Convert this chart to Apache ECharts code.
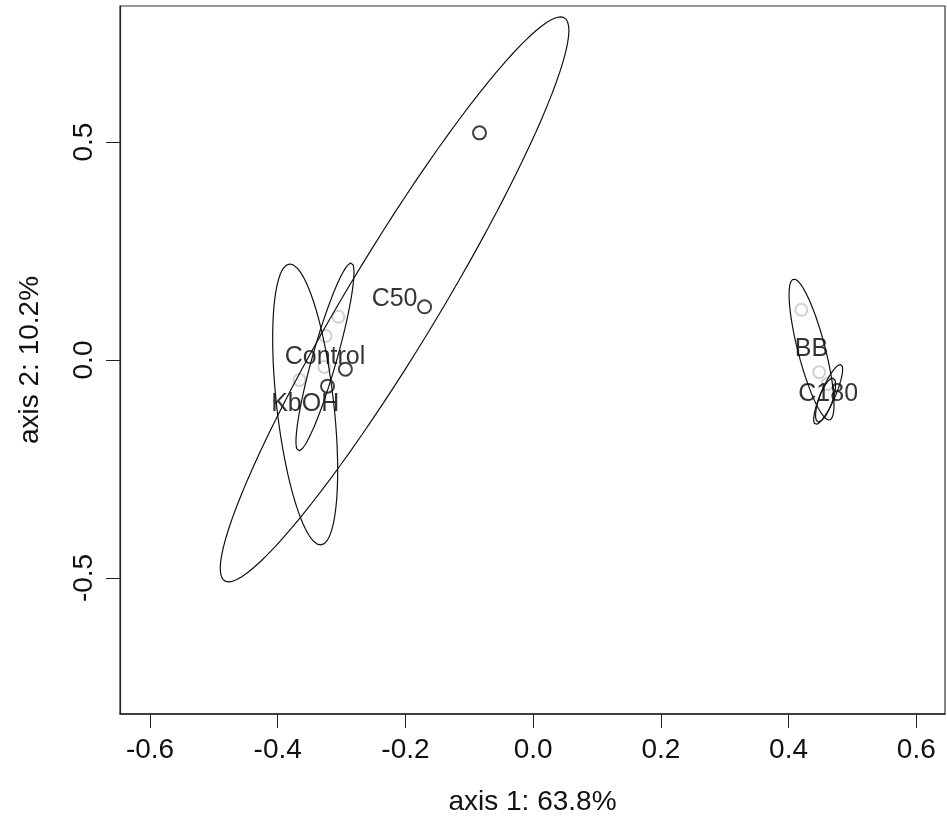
<!DOCTYPE html>
<html>
<head>
<meta charset="utf-8">
<script src="https://cdn.jsdelivr.net/npm/echarts@6/dist/echarts.min.js"></script>
<style>
  html, body { margin: 0; padding: 0; background: #fff; }
  #container { width: 947px; height: 817px; }
</style>
</head>
<body>
<div id="container"></div>
<script>
// group labels, centroids and ellipse shape (sd along x, sd along y, correlation)
var groupNames = ['C50', 'Control', 'KbOH', 'BB', 'C180', ''];
var groupX = [-0.217, -0.326, -0.357, 0.436, 0.462, 0.458];
var groupY = [0.139, 0.007, -0.102, 0.024, -0.079, -0.092];
var ellSdX = [0.273, 0.0454, 0.0509, 0.0352, 0.0227, 0.0157];
var ellSdY = [0.648, 0.2156, 0.3222, 0.1617, 0.0688, 0.0505];
var ellRho = [0.952, 0.90, -0.47, -0.78, 0.84, 0.70];

// sample sites (dark) and faint ones
var siteX = [-0.084, -0.170, -0.294, -0.322];
var siteY = [0.521, 0.122, -0.021, -0.060];
var faintX = [-0.305, -0.325, -0.327, -0.366, 0.420, 0.448, 0.461];
var faintY = [0.099, 0.055, -0.016, -0.046, 0.115, -0.028, -0.055];

var xTicks = [-0.6, -0.4, -0.2, 0.0, 0.2, 0.4, 0.6];
var yTicks = [-0.5, 0.0, 0.5];

var dom = document.getElementById('container');
var myChart = echarts.init(dom);
var font = 'Liberation Sans, Arial, sans-serif';

function ellipse(i) {
  var pts = [];
  var s = Math.sqrt(1 - ellRho[i] * ellRho[i]);
  for (var k = 0; k <= 100; k++) {
    var t = 2 * Math.PI * k / 100;
    pts.push([
      groupX[i] + ellSdX[i] * Math.cos(t),
      groupY[i] + ellSdY[i] * (ellRho[i] * Math.cos(t) + s * Math.sin(t))
    ]);
  }
  return pts;
}

var series = groupNames.map(function (name, i) {
  return {
    type: 'line',
    data: ellipse(i),
    showSymbol: false,
    silent: true,
    lineStyle: { color: '#111', width: 1.2 }
  };
});

series.push({
  type: 'scatter',
  symbol: 'emptyCircle',
  symbolSize: 12,
  data: faintX.map(function (x, i) { return [x, faintY[i]]; }),
  itemStyle: { color: '#c4c4c4', borderColor: '#c4c4c4', borderWidth: 1 },
  silent: true
});
series.push({
  type: 'scatter',
  symbol: 'emptyCircle',
  symbolSize: 13,
  data: siteX.map(function (x, i) { return [x, siteY[i]]; }),
  itemStyle: { color: '#111', borderColor: '#111', borderWidth: 1.1 },
  silent: true
});
series.push({
  type: 'scatter',
  symbolSize: 1,
  data: groupNames.map(function (n, i) { return { value: [groupX[i], groupY[i]], name: n }; }),
  itemStyle: { color: 'transparent' },
  label: {
    show: true,
    position: 'inside',
    formatter: '{b}',
    fontFamily: font,
    fontSize: 25,
    color: '#000'
  },
  silent: true
});

var option = {
  animation: false,
  backgroundColor: '#fff',
  grid: {
    left: 120, right: 2, top: 6, bottom: 103,
    outerBoundsMode: 'none',
    show: true, borderColor: '#333', borderWidth: 1.2
  },
  xAxis: {
    type: 'value',
    min: -0.647, max: 0.645,
    name: 'axis 1: 63.8%',
    nameLocation: 'middle',
    nameGap: 74,
    nameTextStyle: { fontFamily: font, fontSize: 28, color: '#111' },
    axisLine: { show: true, onZero: false, lineStyle: { color: '#222', width: 1.5 } },
    axisTick: { show: true, length: 14, customValues: xTicks, lineStyle: { color: '#222' } },
    axisLabel: {
      customValues: xTicks, margin: 22,
      fontFamily: font, fontSize: 28, color: '#111',
      formatter: function (v) { return v.toFixed(1); }
    },
    splitLine: { show: false }
  },
  yAxis: {
    type: 'value',
    min: -0.812, max: 0.812,
    name: 'axis 2: 10.2%',
    nameLocation: 'middle',
    nameGap: 76,
    nameRotate: 90,
    nameTextStyle: { fontFamily: font, fontSize: 28, color: '#111' },
    axisLine: { show: true, onZero: false, lineStyle: { color: '#222', width: 1.2 } },
    axisTick: { show: true, length: 14, customValues: yTicks, lineStyle: { color: '#222' } },
    axisLabel: {
      customValues: yTicks, margin: 22, rotate: 90,
      fontFamily: font, fontSize: 28, color: '#111',
      formatter: function (v) { return v.toFixed(1); }
    },
    splitLine: { show: false }
  },
  series: series
};

myChart.setOption(option);
</script>
</body>
</html>
